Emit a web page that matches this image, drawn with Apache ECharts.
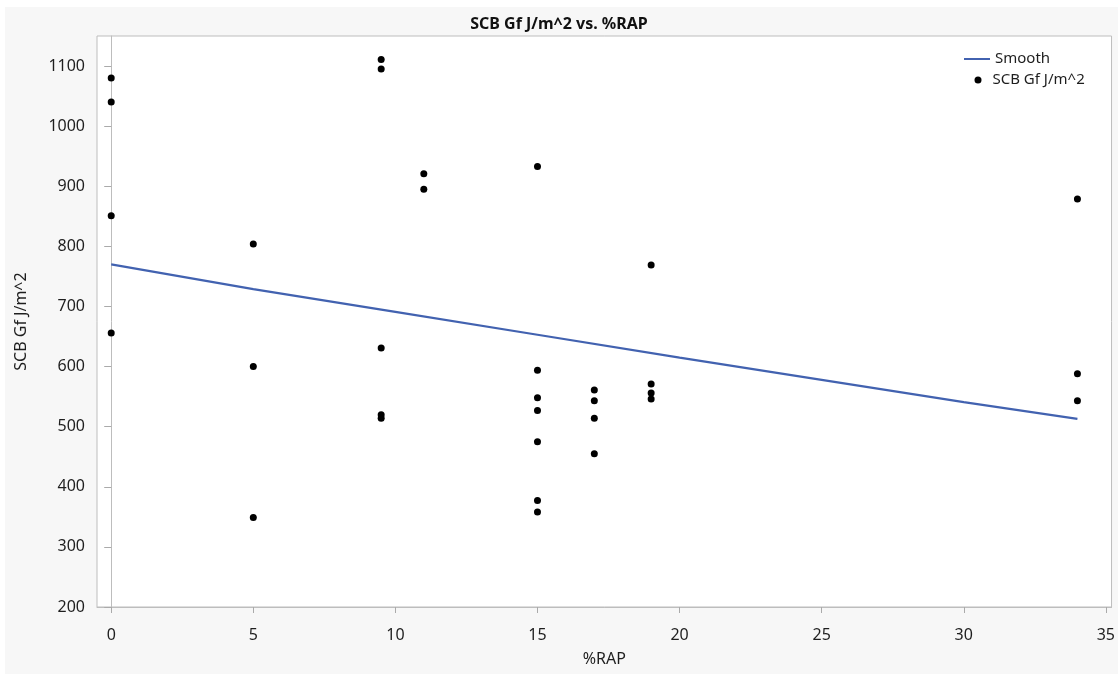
<!DOCTYPE html>
<html>
<head>
<meta charset="utf-8">
<title>SCB Gf J/m^2 vs. %RAP</title>
<script src="https://cdn.jsdelivr.net/npm/echarts@6/dist/echarts.min.js"></script>
<style>
  html, body { margin: 0; padding: 0; background: #ffffff; }
  #chart { width: 1118px; height: 674px; }
</style>
</head>
<body>
<div id="chart"></div>
<script>
// Measured specimens: %RAP content and fracture energy
const rapPercent = [0, 0, 0, 0, 5, 5, 5, 9.5, 9.5, 9.5, 9.5, 9.5, 11, 11,
  15, 15, 15, 15, 15, 15, 15, 17, 17, 17, 17, 19, 19, 19, 19, 34, 34, 34];
const gfValues = [1080, 1040, 851, 656, 804, 600, 349, 1111, 1095, 631, 520, 514, 921, 895,
  933, 594, 548, 527, 475, 377, 358, 561, 543, 514, 455, 769, 571, 556, 546, 879, 588, 543];

// Smoother fitted through the cloud
const smoothX = [0, 5, 10, 15, 20, 25, 30, 34];
const smoothY = [770, 729, 691, 653, 615, 578, 541, 513];

// Axis tick labels
const xTicks = [0, 5, 10, 15, 20, 25, 30, 35];
const yTicks = [200, 300, 400, 500, 600, 700, 800, 900, 1000, 1100];

const titleText = 'SCB Gf J/m^2 vs. %RAP';
const xName = '%RAP';
const yName = 'SCB Gf J/m^2';
const smoothName = 'Smooth';

const FONT = '"Noto Sans", "Open Sans", sans-serif';
const TEXT = '#1e1e1e';
const LINE_BLUE = '#4262b0';

const scatterData = rapPercent.map((x, i) => [x, gfValues[i]]);
const smoothData = smoothX.map((x, i) => [x, smoothY[i]]);

const chart = echarts.init(document.getElementById('chart'), null, { renderer: 'canvas' });

chart.setOption({
  backgroundColor: '#ffffff',
  animation: false,
  graphic: [{
    type: 'rect',
    z: -10,
    shape: { x: 5, y: 7, width: 1113, height: 667 },
    style: { fill: '#f7f7f7' }
  }],
  title: {
    text: titleText,
    left: 'center',
    top: 11,
    textStyle: { fontFamily: FONT, fontSize: 16, fontWeight: 'bold', color: '#111111' }
  },
  legend: [{
    data: [{ name: smoothName, icon: 'rect' }],
    left: 959,
    top: 46,
    itemWidth: 26,
    itemHeight: 2,
    selectedMode: false,
    itemStyle: { color: LINE_BLUE },
    textStyle: { fontFamily: FONT, fontSize: 15, color: TEXT, lineHeight: 16 }
  }, {
    data: [{ name: yName, icon: 'circle' }],
    left: 969.5,
    top: 67,
    itemWidth: 7,
    itemHeight: 7,
    selectedMode: false,
    textStyle: { fontFamily: FONT, fontSize: 15, color: TEXT, lineHeight: 16, padding: [0, 0, 0, 6] }
  }],
  grid: {
    left: 97,
    right: -2,
    top: 36,
    bottom: 67,
    show: true,
    backgroundColor: '#ffffff',
    borderColor: '#bdbdbd',
    borderWidth: 1
  },
  xAxis: {
    type: 'value',
    min: -0.5,
    max: 35.2,
    name: xName,
    nameLocation: 'middle',
    nameGap: 44,
    nameTextStyle: { fontFamily: FONT, fontSize: 16, color: TEXT },
    axisLine: { show: true, lineStyle: { color: '#bdbdbd', width: 1 } },
    axisTick: { show: true, length: 6, customValues: xTicks, lineStyle: { color: '#aaaaaa' } },
    axisLabel: { customValues: xTicks, margin: 20, fontFamily: FONT, fontSize: 16, color: TEXT },
    splitLine: { show: false }
  },
  yAxis: {
    type: 'value',
    min: 200,
    max: 1150,
    name: yName,
    nameLocation: 'middle',
    nameGap: 68,
    nameTextStyle: { fontFamily: FONT, fontSize: 16, color: TEXT },
    axisLine: { show: true, lineStyle: { color: '#bdbdbd', width: 1 } },
    axisTick: { show: true, length: 7, customValues: yTicks, lineStyle: { color: '#aaaaaa' } },
    axisLabel: {
      customValues: yTicks,
      margin: 12,
      fontFamily: FONT,
      fontSize: 16,
      color: TEXT,
      formatter: (v) => String(v)
    },
    splitLine: { show: false }
  },
  series: [{
    name: smoothName,
    type: 'line',
    data: smoothData,
    symbol: 'none',
    smooth: false,
    lineStyle: { color: LINE_BLUE, width: 2.2 },
    itemStyle: { color: LINE_BLUE },
    z: 2
  }, {
    name: yName,
    type: 'scatter',
    data: scatterData,
    symbol: 'circle',
    symbolSize: 7,
    itemStyle: { color: '#000000', opacity: 1 },
    z: 3
  }]
});
</script>
</body>
</html>
